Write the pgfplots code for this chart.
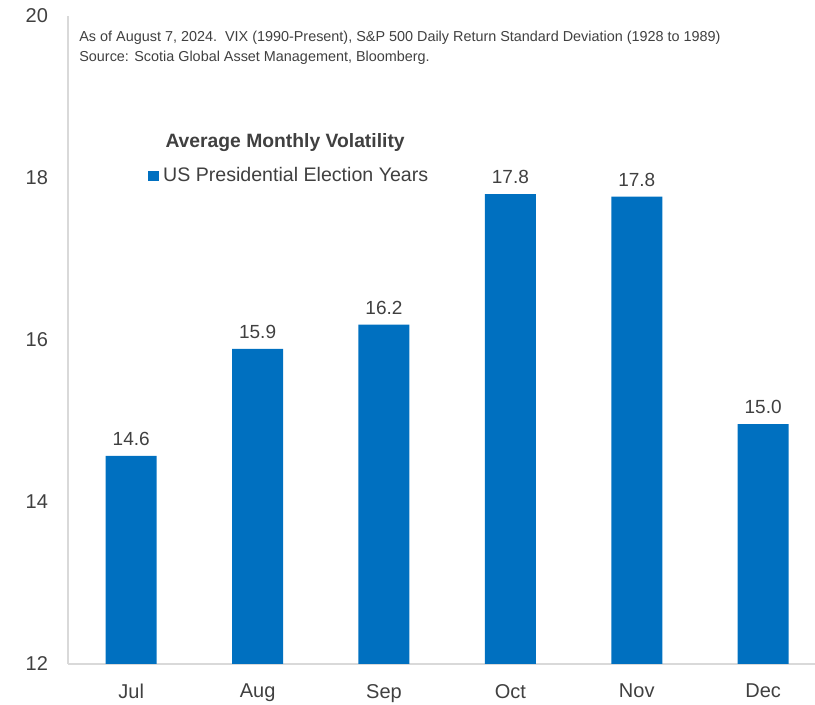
\documentclass[border=0pt]{standalone}
\usepackage{fontspec}
\setmainfont{Liberation Sans}
\usepackage{pgfplots}
\pgfplotsset{compat=1.18}
\definecolor{barblue}{HTML}{0070C0}
\definecolor{txt}{HTML}{404040}
\definecolor{axgray}{HTML}{D9D9D9}
\begin{document}
\begin{tikzpicture}
\useasboundingbox (-34pt,-20.5pt) rectangle (373.5pt,332pt);
\begin{axis}[
  scale only axis, width=373.5pt, height=324pt,
  xmin=-0.5, xmax=5.41, ymin=12, ymax=20,
  ytick={12,14,16,18,20},
  xtick={0,1,2,3,4,5}, xticklabels={Jul,Aug,Sep,Oct,Nov,Dec},
  axis x line=bottom, axis y line=left,
  axis line style={-, axgray, line width=0.8pt},
  major tick length=0pt,
  /pgf/number format/assume math mode=true,
  ticklabel style={font=\fontsize{10}{11}\selectfont, color=txt},
  yticklabel style={xshift=-6.5pt},
  xticklabel style={yshift=-6.5pt},
  ybar, bar width=25.5pt,
  point meta=y,
  nodes near coords,
  nodes near coords style={font=\fontsize{9.5}{10}\selectfont, color=txt, yshift=1.5pt,
    /pgf/number format/.cd, fixed, fixed zerofill, precision=1, assume math mode=true},
  legend style={at={(rel axis cs:0.107,0.753)}, anchor=west, draw=none, fill=none,
    font=\fontsize{9.8}{11}\selectfont, text=txt, inner sep=0pt,
    /tikz/every even column/.append style={column sep=0pt}},
  legend image code/.code={\fill[barblue] (0pt,-2.7pt) rectangle (5.4pt,2.7pt);},
  clip=false,
]
\addplot[fill=barblue, draw=none] coordinates {(0,14.57) (1,15.89) (2,16.19) (3,17.80) (4,17.77) (5,14.96)};
\addlegendentry{US Presidential Election Years}
\node[anchor=west, font=\bfseries\fontsize{9.65}{11}\selectfont, text=txt, inner sep=0pt] at (rel axis cs:0.13,0.804) {Average Monthly Volatility};
\node[anchor=north west, align=left, font=\fontsize{7.2}{10}\selectfont, text=txt, inner sep=0pt] at (rel axis cs:0.0147,0.978) {As of August 7, 2024.\ \ VIX (1990-Present), S\&P 500 Daily Return Standard Deviation (1928 to 1989)\\Source: Scotia Global Asset Management, Bloomberg.};
\end{axis}
\end{tikzpicture}
\end{document}
